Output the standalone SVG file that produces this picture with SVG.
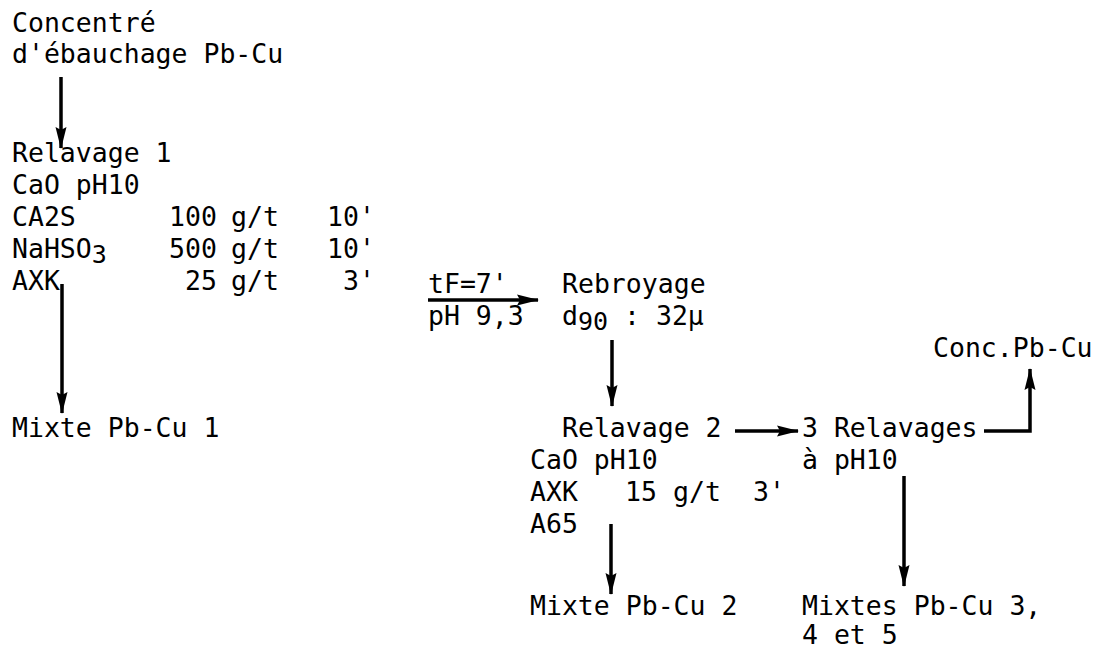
<svg xmlns="http://www.w3.org/2000/svg" width="1109" height="649" viewBox="0 0 1109 649">
<defs>
<style>
text{font-family:"DejaVu Sans Mono","Liberation Mono",monospace;font-size:26.5px;fill:#000}
.sub{font-size:25px}
.c{stroke:#000;stroke-width:3.5;fill:none}
</style>
<marker id="ah" markerUnits="userSpaceOnUse" markerWidth="22" markerHeight="14" viewBox="0 0 22 14" refX="21" refY="7" orient="auto">
<path d="M0,1.5 L22,7 L0,12.5 L3,7 Z" fill="#000"/>
</marker>
</defs>
<rect width="1109" height="649" fill="#fff"/>
<g id="n-concentre">
<text x="12" y="32">Concentré</text>
<text x="12" y="63">d'ébauchage Pb-Cu</text>
</g>
<g id="n-relavage1">
<text x="12" y="162">Relavage 1</text>
<text x="12" y="194">CaO pH10</text>
<text x="12" y="226">CA2S</text><text x="169" y="226">100</text><text x="231" y="226">g/t</text><text x="327" y="226">10'</text>
<text x="12" y="258">NaHSO<tspan class="sub" dy="5">3</tspan></text><text x="169" y="258">500</text><text x="231" y="258">g/t</text><text x="327" y="258">10'</text>
<text x="12" y="290">AXK</text><text x="185" y="290">25</text><text x="231" y="290">g/t</text><text x="343" y="290">3'</text>
</g>
<g id="n-mixte1"><text x="12" y="437">Mixte Pb-Cu 1</text></g>
<g id="n-cond"><text x="428" y="293">tF=7'</text><text x="428" y="325">pH 9,3</text></g>
<g id="n-rebroyage">
<text x="562" y="293">Rebroyage</text>
<text x="562" y="325">d<tspan class="sub" dy="5">90</tspan><tspan dy="-5"> : 32µ</tspan></text>
</g>
<g id="n-relavage2">
<text x="562" y="437">Relavage 2</text>
<text x="530" y="469">CaO pH10</text>
<text x="530" y="501">AXK</text><text x="625" y="501">15</text><text x="673" y="501">g/t</text><text x="753" y="501">3'</text>
<text x="530" y="533">A65</text>
</g>
<g id="n-mixte2"><text x="530" y="615">Mixte Pb-Cu 2</text></g>
<g id="n-relavages3">
<text x="802" y="437">3 Relavages</text>
<text x="802" y="469">à pH10</text>
</g>
<g id="n-conc"><text x="933" y="357">Conc.Pb-Cu</text></g>
<g id="n-mixtes345"><text x="802" y="615">Mixtes Pb-Cu 3,</text><text x="802" y="644">4 et 5</text></g>
<g id="connectors">
<line class="c" x1="61" y1="77" x2="61" y2="148" marker-end="url(#ah)"/>
<line class="c" x1="62" y1="284" x2="62" y2="413" marker-end="url(#ah)"/>
<line class="c" x1="428" y1="300" x2="538" y2="300" marker-end="url(#ah)"/>
<line class="c" x1="612" y1="340" x2="612" y2="406" marker-end="url(#ah)"/>
<line class="c" x1="735" y1="431" x2="798" y2="431" marker-end="url(#ah)"/>
<polyline class="c" points="984,431 1030,431 1030,369" marker-end="url(#ah)"/>
<line class="c" x1="611" y1="524" x2="611" y2="594" marker-end="url(#ah)"/>
<line class="c" x1="904" y1="476" x2="904" y2="586" marker-end="url(#ah)"/>
</g>
</svg>
